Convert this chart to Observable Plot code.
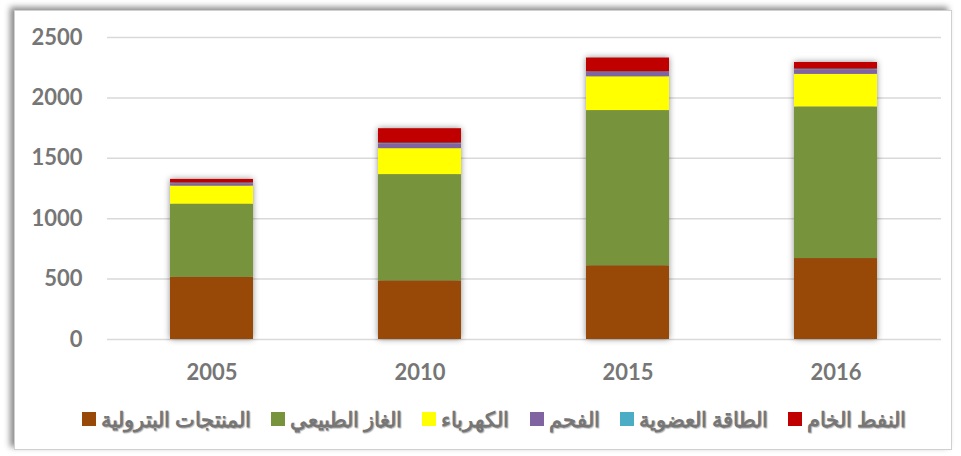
<!DOCTYPE html>
<html>
<head>
<meta charset="utf-8">
<script src="https://cdn.jsdelivr.net/npm/d3@7"></script>
<script src="https://cdn.jsdelivr.net/npm/@observablehq/plot@0.6"></script>
<style>
  html, body { margin: 0; padding: 0; background: #fff; }
  #wrap { position: relative; width: 961px; height: 456px; overflow: hidden; font-family: Lato, "Open Sans", sans-serif; }
  #frame { position: absolute; left: 14px; top: 10px; width: 936px; height: 438px; border: 1px solid #d0d0d0; box-shadow: -4px -3px 6px rgba(0,0,0,0.45); background: #fff; }
  #chart { position: absolute; left: 0; top: 0; }
  #legend { position: absolute; left: 82px; top: 406px; width: 824px; display: flex; direction: rtl; justify-content: space-between; white-space: nowrap;
    font-weight: 900; font-size: 21px; color: #767676; text-shadow: 1px 1px 1px rgba(0,0,0,0.3); }
  .item { display: flex; align-items: center; gap: 5px; }
  .sw { width: 14px; height: 14px; display: inline-block; flex: none; }
</style>
</head>
<body>
<div id="wrap">
  <div id="frame"></div>
  <div id="chart"></div>
  <div id="legend"></div>
</div>
<script>
const years = ["2005", "2010", "2015", "2016"];
const series = ["المنتجات البترولية", "الغاز الطبيعي", "الكهرباء", "الفحم", "الطاقة العضوية", "النفط الخام"];
const colors = ["#984807", "#77933C", "#FFFF00", "#8064A2", "#4BACC6", "#C00000"];
const petroleum = [515, 485, 610, 670];
const gas = [605, 880, 1285, 1255];
const electricity = [150, 215, 280, 270];
const coal = [20, 40, 35, 38];
const biomass = [5, 5, 5, 5];
const crude = [30, 120, 115, 55];
const yTicks = [0, 500, 1000, 1500, 2000, 2500];

const valuesBySeries = [petroleum, gas, electricity, coal, biomass, crude];
const data = [];
years.forEach((y, i) => {
  series.forEach((s, j) => data.push({year: y, series: s, value: valuesBySeries[j][i]}));
});

const chart = Plot.plot({
  width: 961,
  height: 400,
  marginLeft: 107,
  marginRight: 20,
  marginTop: 37,
  marginBottom: 61,
  style: {background: "transparent", fontFamily: "Lato, 'Open Sans', sans-serif"},
  x: {domain: years, paddingInner: 0.6, paddingOuter: 0.3, label: null},
  y: {domain: [0, 2500], label: null},
  color: {domain: series, range: colors},
  marks: [
    Plot.ruleY(yTicks, {stroke: "#d9d9d9", strokeWidth: 1.5}),
    Plot.barY(data, {x: "year", y: "value", fill: "series", order: series}),
    Plot.axisX({tickSize: 0, tickPadding: 25, fontSize: 22, fontWeight: "bold", fill: "#767676", label: null}),
    Plot.axisY({ticks: yTicks, tickFormat: d => String(d), tickSize: 0, tickPadding: 25, fontSize: 22, fontWeight: "bold", fill: "#767676", label: null})
  ]
});
d3.select(chart).selectAll("g[aria-label='bar']").style("filter", "drop-shadow(0px 0px 3px rgba(0,0,0,0.45))");
document.getElementById("chart").appendChild(chart);

const legend = document.getElementById("legend");
series.slice().reverse().forEach((s) => {
  const idx = series.indexOf(s);
  const it = document.createElement("div");
  it.className = "item";
  const sw = document.createElement("span");
  sw.className = "sw";
  sw.style.background = colors[idx];
  const t = document.createElement("span");
  t.textContent = s;
  it.appendChild(t);
  it.appendChild(sw);
  legend.appendChild(it);
});
</script>
</body>
</html>
